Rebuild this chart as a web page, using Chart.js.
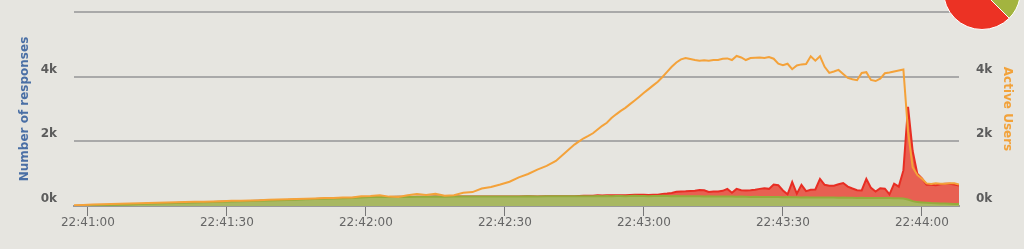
<!DOCTYPE html>
<html>
<head>
<meta charset="utf-8">
<script src="https://cdn.jsdelivr.net/npm/chart.js@4.4.1/dist/chart.umd.min.js"></script>
<style>
  html, body { margin: 0; padding: 0; background: #e6e5e0; overflow: hidden; }
  #wrap { position: relative; width: 1024px; height: 249px; }
  #responses { position: absolute; left: 0; top: 0; }
  #pie { position: absolute; left: 943px; top: -48px; }
</style>
</head>
<body>
<div id="wrap">
  <canvas id="responses" width="1024" height="249"></canvas>
  <canvas id="pie" width="78" height="78"></canvas>
</div>
<script>
// seconds after 22:40:00
const seconds = [
  57,59,61,63,65,67,69,71,73,75,77,79,81,83,85,87,89,91,93,95,97,99,101,103,105,107,109,111,113,115,
  117,119,121,123,125,127,129,131,133,135,137,139,141,143,145,147,149,151,153,155,157,159,161,163,165,
  166,167,168,169,170,171,172,173,174,175,176,177,178,179,180,181,182,183,184,185,186,187,188,189,190,
  191,192,193,194,195,196,197,198,199,200,201,202,203,204,205,206,207,208,209,210,211,212,213,214,215,
  216,217,218,219,220,221,222,223,224,225,226,227,228,229,230,231,232,233,234,235,236,237,238,239,240,
  241,242,243,244,245,246,247,248
];

const activeUsers = [
  20,30,45,55,60,70,80,85,95,100, 110,115,120,130,135,140,150,160,165,170,
  175,190,200,210,220,225,235,250,245,265, 260,300,310,330,290,280,330,370,340,380,
  320,330,410,430,540,590,665,750,885,990, 1125,1240,1395,1650,1900,
  2000,2095,2170,2250,2365,2480,2575,2720,2835,2940,
  3035,3150,3265,3380,3500,3615,3730,3845,3990,4150,
  4305,4440,4535,4575,4545,4515,4495,4505,4495,4515,
  4515,4555,4565,4515,4640,4595,4515,4575,4585,4595,
  4575,4610,4555,4400,4355,4400,4230,4345,4380,4390,
  4630,4495,4630,4305,4115,4160,4210,4085,3960,3920,
  3890,4115,4140,3900,3865,3940,4105,4130,4160,4190,
  4220,2300,1200,960,840,700,680,700,690,690,
  700,700,660
];

const okResponses = [
  0,8,16,25,33,42,50,58,66,75, 83,92,100,108,116,124,130,136,145,152,
  160,170,178,186,195,205,215,225,230,240, 250,265,275,280,280,285,280,285,285,290,
  285,290,290,290,295,290,295,295,295,300, 295,300,300,300,305,
  300,305,300,305,310,305,310,305,310,310,
  305,310,315,310,310,305,310,310,315,310,
  305,310,305,300,305,300,300,295,300,295,
  290,295,290,290,285,290,285,280,285,280,
  280,275,280,275,270,275,270,270,265,270,
  265,265,260,265,260,260,255,260,255,255,
  250,255,250,250,245,250,245,245,240,240,
  230,200,150,120,110,100,90,85,80,75,
  70,65,60
];

const koResponses = [
  0,0,0,0,0,0,0,0,0,0, 0,0,0,0,0,0,0,0,0,0,
  0,0,0,0,0,0,0,0,0,0, 0,0,0,0,0,0,0,0,0,0,
  0,0,0,0,0,0,0,0,0,0, 0,0,0,0,0,
  10,10,15,15,20,20,20,25,25,25,
  30,30,30,35,35,35,40,40,60,75,
  100,130,145,155,160,170,195,190,135,150,
  160,175,240,120,245,200,195,205,220,250,
  270,255,385,370,210,85,470,110,390,190,
  235,245,580,390,370,370,420,450,345,285,
  240,225,590,310,200,300,290,115,450,360,
  870,2870,1550,880,740,560,570,560,590,610,
  620,600,570
];

const tickSeconds = [60, 90, 120, 150, 180, 210, 240];
const tickLabels = ['22:41:00', '22:41:30', '22:42:00', '22:42:30', '22:43:00', '22:43:30', '22:44:00'];

const pieLabels = ['OK', 'KO'];
const pieValues = [37.5, 62.5];

const toPoints = vals => seconds.map((t, i) => ({ x: t, y: vals[i] }));

const labelFont = { family: 'DejaVu Sans', size: 12, weight: 'bold' };
const titleFont = { family: 'DejaVu Sans', size: 12, weight: 'bold' };

// fixed axis box sizes so the plot area lands where the original has it
const fixWidth = w => s => { s.width = w; s.paddingTop = 0; s.paddingBottom = 0; };

new Chart(document.getElementById('responses'), {
  type: 'line',
  data: {
    datasets: [
      {
        label: 'OK',
        data: toPoints(okResponses),
        yAxisID: 'y',
        order: 1,
        fill: 'origin',
        backgroundColor: '#a8b862',
        borderColor: '#94ac3c',
        borderWidth: 2,
        pointRadius: 0,
        tension: 0
      },
      {
        label: 'KO',
        data: toPoints(koResponses),
        yAxisID: 'y',
        order: 2,
        fill: '-1',
        backgroundColor: '#e86052',
        borderColor: '#e82d23',
        borderWidth: 2,
        pointRadius: 0,
        tension: 0
      },
      {
        label: 'Active Users',
        data: toPoints(activeUsers),
        yAxisID: 'y2',
        order: 0,
        fill: false,
        borderColor: '#f4a23a',
        borderWidth: 2,
        pointRadius: 0,
        tension: 0
      }
    ]
  },
  options: {
    responsive: false,
    animation: false,
    devicePixelRatio: 1,
    layout: { padding: { top: 12 } },
    plugins: { legend: { display: false }, tooltip: { enabled: false } },
    scales: {
      x: {
        type: 'linear',
        min: 57,
        max: 248,
        afterBuildTicks: s => { s.ticks = tickSeconds.map(v => ({ value: v })); },
        afterFit: s => { s.height = 43; },
        ticks: {
          autoSkip: false,
          maxRotation: 0,
          padding: 0,
          color: '#666',
          font: { family: 'DejaVu Sans', size: 12 },
          callback: v => tickLabels[tickSeconds.indexOf(v)]
        },
        grid: { drawOnChartArea: false, drawTicks: true, tickLength: 10, tickColor: '#777', tickWidth: 1 },
        border: { display: true, color: '#999', width: 2 }
      },
      y: {
        position: 'left',
        stacked: true,
        min: 0,
        max: 6000,
        afterFit: fixWidth(74),
        ticks: {
          stepSize: 2000,
          padding: 17,
          labelOffset: -7,
          color: '#5c5c5c',
          font: labelFont,
          callback: v => v >= 6000 ? '' : (v / 1000) + 'k'
        },
        grid: { color: '#a9a9a9', lineWidth: 2, drawTicks: false },
        border: { display: false },
        title: { display: true, text: 'Number of responses', color: '#4a6fa5', font: titleFont, padding: { top: 18, bottom: 0 } }
      },
      y2: {
        position: 'right',
        min: 0,
        max: 6000,
        afterFit: fixWidth(65),
        ticks: {
          stepSize: 2000,
          padding: 17,
          labelOffset: -7,
          color: '#5c5c5c',
          font: labelFont,
          callback: v => v >= 6000 ? '' : (v / 1000) + 'k'
        },
        grid: { display: false, drawTicks: false },
        border: { display: false },
        title: { display: true, text: 'Active Users', color: '#f2a23a', font: titleFont, padding: { top: 10, bottom: 0 } }
      }
    }
  }
});

new Chart(document.getElementById('pie'), {
  type: 'pie',
  data: {
    labels: pieLabels,
    datasets: [{
      data: pieValues,
      backgroundColor: ['#a3b43f', '#ec3224'],
      borderColor: '#ffffff',
      borderWidth: 1
    }]
  },
  options: {
    responsive: false,
    animation: false,
    devicePixelRatio: 1,
    plugins: { legend: { display: false }, tooltip: { enabled: false } }
  }
});
</script>
</body>
</html>
